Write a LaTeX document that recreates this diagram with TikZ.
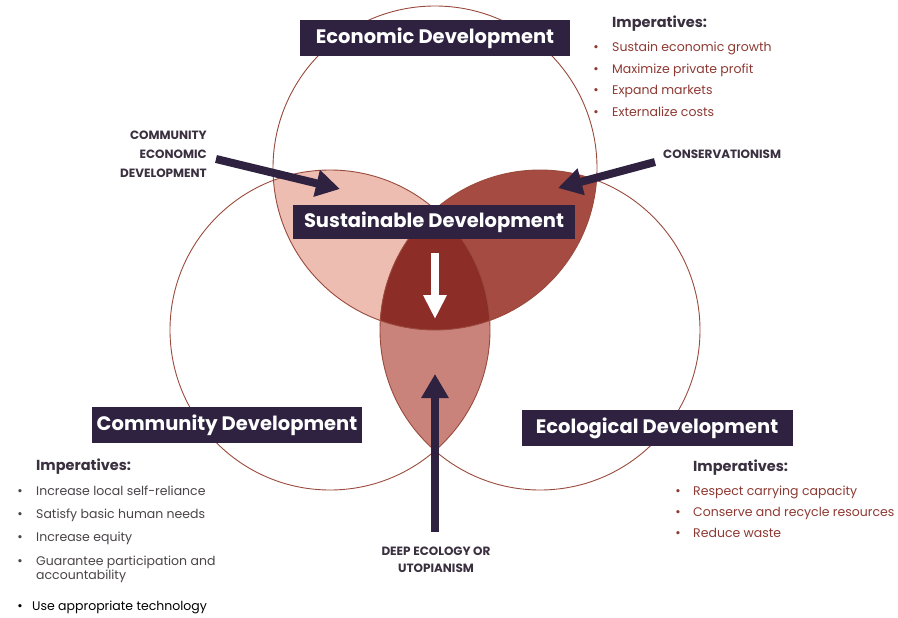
\documentclass[tikz,border=0pt]{standalone}
\usepackage{fontspec}
\setmainfont{Poppins}
\usetikzlibrary{arrows.meta}
\definecolor{boxbg}{HTML}{2E2240}
\definecolor{pinkA}{HTML}{EDBDB2}
\definecolor{brownB}{HTML}{A54B41}
\definecolor{darkC}{HTML}{8C2D28}
\definecolor{midD}{HTML}{C9837A}
\definecolor{ringcol}{HTML}{9A4A3C}
\definecolor{impred}{HTML}{8E3A33}
\definecolor{impgray}{HTML}{4A4448}
\definecolor{headcol}{HTML}{3A3040}
\definecolor{arrowcol}{HTML}{2E2240}
\tikzset{
  titlebox/.style={fill=boxbg, text=white, inner sep=0pt, minimum height=36pt,
    font=\fontsize{19.5}{22}\selectfont\bfseries},
  imphead/.style={anchor=base west, inner sep=0pt, text=headcol, font=\fontsize{14.5}{16}\selectfont\bfseries},
  impitem/.style={anchor=base west, inner sep=0pt, font=\fontsize{12.5}{14}\selectfont},
  bul/.style={anchor=base, inner sep=0pt, font=\fontsize{13}{14}\selectfont},
  caplabel/.style={inner sep=0pt, text=headcol, font=\fontsize{12}{19}\selectfont\bfseries},
  bigarrow/.style={line width=8pt, draw=arrowcol, -{Triangle[width=26pt,length=24pt]}},
  whitearrow/.style={line width=8pt, draw=white, -{Triangle[width=22pt,length=24pt]}},
  ring/.style={draw=ringcol, line width=0.9pt}
}
\begin{document}
\begin{tikzpicture}[x=1pt,y=-1pt]
\useasboundingbox (0,0) rectangle (898,618);
\fill[white] (0,0) rectangle (898,618);
% regions
\begin{scope}
  \clip (435,168) circle[radius=162pt];
  \clip (330,330) circle[radius=160pt];
  \fill[pinkA] (0,0) rectangle (898,618);
\end{scope}
\begin{scope}
  \clip (435,168) circle[radius=162pt];
  \clip (540,330) circle[radius=160pt];
  \fill[brownB] (0,0) rectangle (898,618);
\end{scope}
\begin{scope}
  \clip (330,330) circle[radius=160pt];
  \clip (540,330) circle[radius=160pt];
  \fill[midD] (0,0) rectangle (898,618);
\end{scope}
\begin{scope}
  \clip (435,168) circle[radius=162pt];
  \clip (330,330) circle[radius=160pt];
  \clip (540,330) circle[radius=160pt];
  \fill[darkC] (0,0) rectangle (898,618);
\end{scope}
\draw[ring] (435,168) circle[radius=162pt];
\draw[ring] (330,330) circle[radius=160pt];
\draw[ring] (540,330) circle[radius=160pt];

% title boxes
\node[titlebox, minimum width=270pt] (econ) at (435,38) {Economic Development};
\node[titlebox, minimum width=282pt, minimum height=34pt] (sust) at (434,222) {Sustainable Development};
\node[titlebox, minimum width=270pt] (comm) at (227,425) {Community Development};
\node[titlebox, minimum width=271pt] (ecol) at (657,428) {Ecological Development};

% arrows
\coordinate (cedtail) at (216,159);
\coordinate (cedtip) at (340,189);
\draw[bigarrow] (cedtail) -- (cedtip);
\coordinate (constail) at (655,162);
\coordinate (constip) at (558,188);
\draw[bigarrow] (constail) -- (constip);
\coordinate (deeptail) at (435,532);
\coordinate (deeptip) at (435,374);
\draw[bigarrow] (deeptail) -- (deeptip);
\coordinate (wtail) at (435,253);
\coordinate (wtip) at (435,319);
\draw[whitearrow] (wtail) -- (wtip);

% side labels
\node[caplabel, align=right, anchor=base east] (ced) at (207,177) {COMMUNITY\\ECONOMIC\\DEVELOPMENT};
\node[caplabel, anchor=base west] (cons) at (663,158) {CONSERVATIONISM};
\node[caplabel, align=center, anchor=base, font=\fontsize{12}{17}\selectfont\bfseries] (deep) at (436,572) {DEEP ECOLOGY OR\\UTOPIANISM};

% economic imperatives
\node[imphead] (eh) at (612,28) {Imperatives:};
\foreach \t/\y [count=\i] in {Sustain economic growth/52, Maximize private profit/74, Expand markets/95, Externalize costs/117}{
  \node[bul, text=impred] (eb\i) at (596,\y) {•};
  \node[impitem, text=impred] (ei\i) at (612,\y) {\t};
}
% community imperatives
\node[imphead] (ch) at (36,470) {Imperatives:};
\foreach \t/\y [count=\i] in {Increase local self-reliance/495, Satisfy basic human needs/518, Increase equity/541, Guarantee participation and/565}{
  \node[bul, text=impgray] (cb\i) at (20,\y) {•};
  \node[impitem, text=impgray] (ci\i) at (36,\y) {\t};
}
\node[impitem, text=impgray] (ci5) at (36,579) {accountability};
\node[bul, text=black] (cb6) at (20,610) {•};
\node[impitem, text=black] (ci6) at (32,610) {Use appropriate technology};
% ecological imperatives
\node[imphead] (gh) at (693,471) {Imperatives:};
\foreach \t/\y [count=\i] in {Respect carrying capacity/495, Conserve and recycle resources/516, Reduce waste/537}{
  \node[bul, text=impred] (gb\i) at (678,\y) {•};
  \node[impitem, text=impred] (gi\i) at (693,\y) {\t};
}
\end{tikzpicture}
\end{document}
